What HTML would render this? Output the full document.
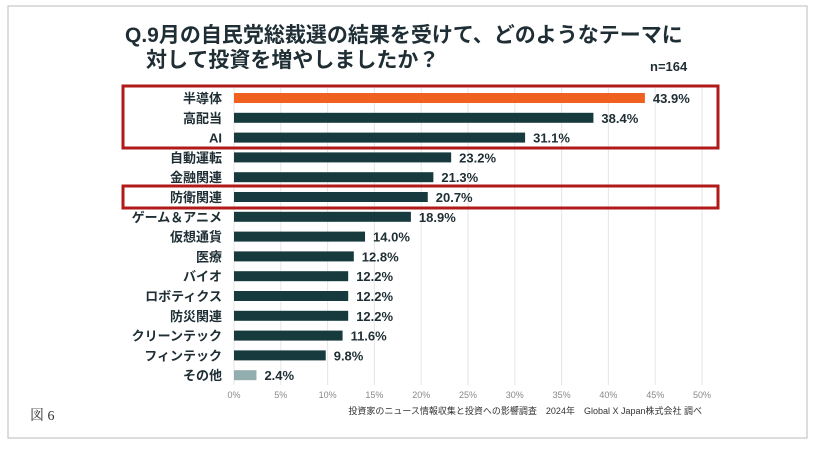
<!DOCTYPE html>
<html><head><meta charset="utf-8"><style>
body{margin:0;background:#fff;width:815px;height:445px;overflow:hidden;font-family:"Liberation Sans","Noto Sans CJK JP",sans-serif}
</style></head><body>
<svg width="815" height="445" font-family="Liberation Sans, Noto Sans CJK JP, sans-serif">
<rect x="8" y="6" width="799" height="432" fill="none" stroke="#bbb" stroke-width="1"/>
<text x="125" y="42" font-size="21" font-weight="bold" fill="#1e2e34">Q.9月の自民党総裁選の結果を受けて、どのようなテーマに</text>
<text x="146" y="67" font-size="21" font-weight="bold" fill="#1e2e34">対して投資を増やしましたか？</text>
<text x="650" y="71" font-size="13" font-weight="bold" fill="#1e2e34">n=164</text>
<g id="grid"></g><g id="bars"></g><g id="ticks"></g>
<rect x="123" y="86" width="595" height="62" fill="none" stroke="#b01a1a" stroke-width="3"/>
<rect x="123" y="186" width="595" height="22" fill="none" stroke="#b01a1a" stroke-width="3"/>
<text x="702" y="414" font-size="9" text-anchor="end" fill="#333">投資家のニュース情報収集と投資への影響調査　2024年　Global X Japan株式会社 調べ</text>
<text x="30" y="420" font-size="14" fill="#333" font-family="Liberation Serif, Noto Serif CJK SC, serif">図 6</text>
</svg>
<script>
const categories=["半導体","高配当","AI","自動運転","金融関連","防衛関連","ゲーム＆アニメ","仮想通貨","医療","バイオ","ロボティクス","防災関連","クリーンテック","フィンテック","その他"];
const values=[43.9,38.4,31.1,23.2,21.3,20.7,18.9,14.0,12.8,12.2,12.2,12.2,11.6,9.8,2.4];
const tickValues=[0,5,10,15,20,25,30,35,40,45,50];
const NS="http://www.w3.org/2000/svg";
const x0=234,pxPer=9.36,y0=98,rowH=19.8,barH=10;
const xs=v=>x0+v*pxPer, ys=i=>y0+i*rowH;
function mk(t,a,parent){const e=document.createElementNS(NS,t);for(const k in a)e.setAttribute(k,a[k]);document.getElementById(parent).appendChild(e);return e;}
tickValues.forEach(t=>{
 const g=mk("line",{x1:xs(t),x2:xs(t),y1:88,y2:385,stroke:"#e6e6e6"},"grid");
 
 
 const l=mk("text",{x:xs(t),y:398,"font-size":9,"text-anchor":"middle",fill:"#888"},"ticks");
 l.textContent=t+"%";
 
 
});
categories.forEach((c,i)=>{
 const y=ys(i);
 const col=i===0?"#f0601e":(i===categories.length-1?"#93aeae":"#173a3e");
 const r=mk("rect",{x:x0,y:y-barH/2,width:xs(values[i])-x0,height:barH,fill:col},"bars");
 
 
 const l=mk("text",{x:222,y:y+5,"font-size":13,"font-weight":"bold","text-anchor":"end",fill:"#1e2e34"},"bars");
 l.textContent=c;
 
 
 const v=mk("text",{x:xs(values[i])+8,y:y+5,"font-size":13,"font-weight":"bold",fill:"#1e2e34"},"bars");
 v.textContent=values[i].toFixed(1)+"%";
 
 
});
</script>
</body></html>
